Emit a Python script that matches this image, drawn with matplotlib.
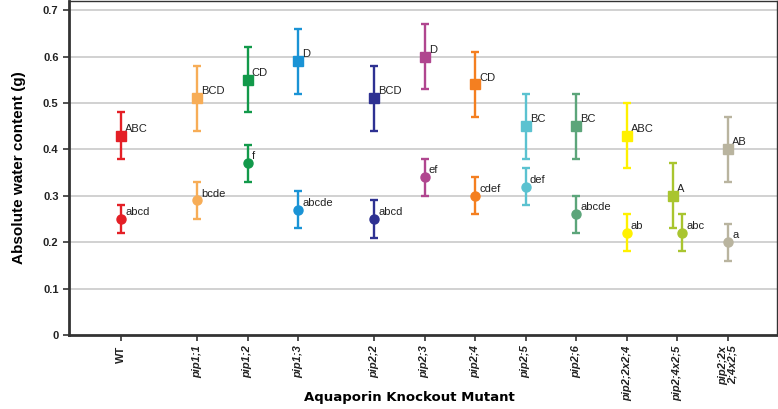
import numpy as np
import matplotlib
matplotlib.use('Agg')
import matplotlib.pyplot as plt

# Dati
mutants = ['WT', 'pip1;1', 'pip1;2', 'pip1;3', 'pip2;2', 'pip2;3', 'pip2;4',
           'pip2;5', 'pip2;6', 'pip2;2x2;4', 'pip2;4x2;5', 'pip2;2x\n2;4x2;5']
groups = [0, 1, 1, 1, 2, 2, 2, 2, 2, 2, 2, 2]

sq_mean = [0.43, 0.51, 0.55, 0.59, 0.51, 0.60, 0.54, 0.45, 0.45, 0.43, 0.30, 0.40]
sq_err = [0.05, 0.07, 0.07, 0.07, 0.07, 0.07, 0.07, 0.07, 0.07, 0.07, 0.07, 0.07]
sq_letters = ['ABC', 'BCD', 'CD', 'D', 'BCD', 'D', 'CD', 'BC', 'BC', 'ABC', 'A', 'AB']

ci_mean = [0.25, 0.29, 0.37, 0.27, 0.25, 0.34, 0.30, 0.32, 0.26, 0.22, 0.22, 0.20]
ci_err = [0.03, 0.04, 0.04, 0.04, 0.04, 0.04, 0.04, 0.04, 0.04, 0.04, 0.04, 0.04]
ci_letters = ['abcd', 'bcde', 'f', 'abcde', 'abcd', 'ef', 'cdef', 'def', 'abcde', 'ab', 'abc', 'a']

colors = ['#e41f26', '#f7ad57', '#12994a', '#1a93d5', '#2e3192', '#b0468f', '#f47f20',
          '#5bc2d0', '#5ca57a', '#fff100', '#a9c52f', '#b9b49f']

# posizioni: spazio extra tra i gruppi
x = np.arange(len(mutants)) + 0.5 * np.array(groups)
dodge = np.zeros(len(mutants))
dodge[10] = 0.09  # i due punti di pip2;4x2;5 sono leggermente sfalsati

fig = plt.figure(figsize=(7.78, 4.09), dpi=100)
ax = fig.add_axes([0.0887, 0.181, 0.91, 0.8166])

for yv in np.arange(0.1, 0.75, 0.1):
    ax.axhline(yv, color='#c9c9c9', lw=1.2, zorder=0)

for i in range(len(mutants)):
    ax.errorbar(x[i] - dodge[i], sq_mean[i], yerr=sq_err[i], fmt='s', color=colors[i],
                ms=6.5, elinewidth=1.7, capsize=3, capthick=1.7, zorder=3)
    ax.errorbar(x[i] + dodge[i], ci_mean[i], yerr=ci_err[i], fmt='o', color=colors[i],
                ms=6.5, elinewidth=1.7, capsize=3, capthick=1.7, zorder=3)
    ax.annotate(sq_letters[i], (x[i] - dodge[i], sq_mean[i]), xytext=(3, 5),
                textcoords='offset points', ha='left', va='center',
                fontsize=8, family='Liberation Sans', color='#222222')
    ax.annotate(ci_letters[i], (x[i] + dodge[i], ci_mean[i]), xytext=(3, 5),
                textcoords='offset points', ha='left', va='center',
                fontsize=8, family='Liberation Sans', color='#222222')

ax.set_xlim(x[0] - 1.03, x[-1] + 0.97)
ax.set_ylim(0, 0.72)
ax.set_yticks(np.arange(0, 0.75, 0.1))
ax.set_yticklabels(['0'] + ['%.1f' % v for v in np.arange(0.1, 0.75, 0.1)],
                   fontsize=8, fontweight='bold', family='Liberation Sans', color='#222222')
ax.set_xticks(x)
ax.set_xticklabels(mutants, rotation=90, fontsize=8, fontweight='bold',
                   family='Liberation Sans', color='#222222', linespacing=0.9)
for lab in ax.get_xticklabels()[1:]:
    lab.set_fontstyle('italic')

ax.tick_params(axis='both', direction='out', length=4, width=1.2, color='#333333')
for side in ['left', 'bottom']:
    ax.spines[side].set_linewidth(2)
    ax.spines[side].set_color('#333333')
for side in ['top', 'right']:
    ax.spines[side].set_linewidth(1)
    ax.spines[side].set_color('#333333')

ax.set_ylabel('Absolute water content (g)', fontsize=11, fontweight='bold',
              family='Liberation Sans', labelpad=12)
# etichetta asse x posizionata a mano (le etichette lunghe stanno a destra)
fig.text(0.526, 0.027, 'Aquaporin Knockout Mutant', fontsize=9.5, fontweight='bold',
         family='DejaVu Sans', ha='center', va='center')

fig.savefig('out.png', dpi=100)
